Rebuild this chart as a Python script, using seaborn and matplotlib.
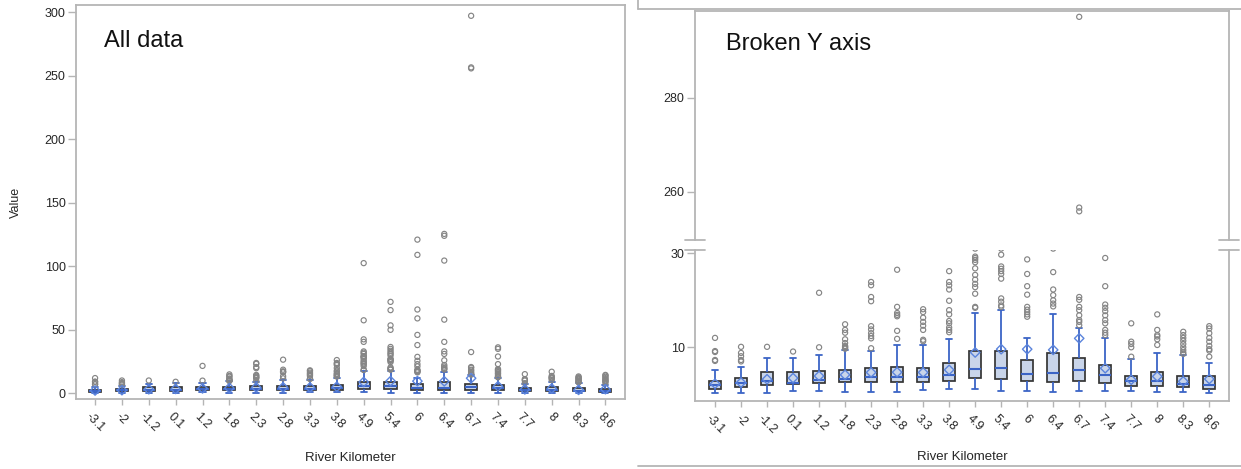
import numpy as np
import pandas as pd
import matplotlib
matplotlib.use("Agg")
import matplotlib.pyplot as plt
from matplotlib.lines import Line2D
import seaborn as sns

# ---------------- data ----------------
categories = ["-3.1", "-2", "-1.2", "0.1", "1.2", "1.8", "2.3", "2.8", "3.3", "3.8",
              "4.9", "5.4", "6", "6.4", "6.7", "7.4", "7.7", "8", "8.3", "8.6"]
whisker_low = [0.3, 0.3, 0.3, 0.6, 0.8, 0.4, 0.4, 0.4, 1.0, 1.1,
               1.1, 0.6, 0.6, 0.4, 0.6, 0.6, 0.6, 0.4, 0.4, 0.3]
q1 = [1.1, 1.6, 2.0, 2.2, 2.4, 2.55, 2.55, 2.55, 2.55, 2.9,
      3.45, 3.25, 2.75, 2.6, 2.9, 2.4, 1.7, 1.85, 1.5, 1.15]
median = [1.9, 2.4, 2.75, 2.5, 3.1, 3.25, 3.65, 3.6, 3.6, 4.15,
          5.4, 5.55, 4.35, 4.5, 5.2, 4.15, 2.75, 2.75, 2.2, 2.05]
q3 = [2.9, 3.4, 4.65, 4.85, 5.05, 5.2, 5.55, 5.75, 5.7, 6.75,
      9.2, 9.3, 7.3, 8.85, 7.7, 6.25, 3.95, 4.65, 3.95, 3.8]
whisker_high = [5.2, 5.9, 7.7, 7.8, 8.4, 9.4, 9.3, 10.5, 10.5, 11.7,
                17.3, 17.9, 11.9, 17.0, 14.2, 11.9, 7.45, 8.7, 8.4, 6.75]
means = [2.25, 2.5, 3.2, 3.45, 3.9, 4.15, 4.65, 4.7, 4.65, 5.2,
         8.9, 9.6, 9.6, 9.45, 11.9, 5.55, 3.1, 3.8, 2.75, 3.25]
outliers = [
    [12.0, 9.2, 9.0, 7.3, 7.1],
    [10.1, 8.8, 8.1, 7.3, 7.0],
    [10.1],
    [9.1],
    [21.6, 10.0],
    [14.9, 13.7, 13.1, 11.7, 10.9, 10.3, 10.1, 9.9, 9.7],
    [23.9, 23.2, 20.7, 19.8, 14.5, 13.8, 13.0, 12.4, 11.9, 9.8],
    [26.5, 18.6, 17.3, 16.9, 16.6, 13.5, 11.8],
    [18.1, 17.5, 16.3, 15.4, 14.6, 13.7, 11.6, 11.3],
    [26.2, 23.9, 23.2, 22.3, 19.9, 17.9, 17.0, 15.6, 15.1, 14.2, 13.7, 13.2],
    [102.5, 57.5, 42.5, 40.5, 33.0, 32.0, 31.0, 29.3, 29.0, 28.6, 28.1, 26.8,
     25.4, 24.4, 23.5, 22.8, 21.4, 18.6, 18.4],
    [72.0, 65.5, 53.5, 50.0, 36.5, 35.0, 33.5, 32.0, 31.0, 29.7, 27.2, 26.7,
     26.2, 25.6, 24.6, 20.4, 19.7, 18.9, 18.6],
    [121.0, 109.0, 66.0, 59.0, 46.0, 38.0, 28.7, 25.6, 23.0, 21.2, 18.6, 18.0,
     17.5, 17.0, 16.5],
    [125.5, 124.0, 104.5, 58.0, 40.5, 33.0, 31.0, 26.0, 22.3, 21.1, 20.0, 19.3, 18.7],
    [297.2, 256.6, 255.8, 32.5, 20.7, 20.1, 18.6, 17.9, 16.8, 15.8, 15.4, 14.7],
    [36.2, 35.0, 29.0, 23.0, 19.1, 18.4, 17.7, 16.8, 15.8, 15.1, 13.7, 13.1, 12.6],
    [15.1, 11.2, 10.7, 10.0, 8.0],
    [17.0, 13.7, 12.6, 12.3, 11.7, 10.5],
    [13.3, 12.6, 12.0, 11.4, 10.7, 10.0, 9.4, 8.9, 8.6],
    [14.5, 14.0, 13.0, 12.0, 11.2, 10.3, 9.6, 9.3, 8.0],
]
left_yticks = [0, 50, 100, 150, 200, 250, 300]
upper_yticks = [260, 280]
lower_yticks = [10, 30]

# ---------------- style ----------------
sns.set_theme(style="ticks")
plt.rcParams["font.family"] = ["Liberation Sans", "DejaVu Sans"]

BOX_FILL = "#c9d5ea"
BOX_EDGE = "#353535"
BLUE = "#3b64c6"
MEAN_BLUE = "#5b84dc"
OUT_GRAY = "#858585"
SPINE = "#b5b5b5"
TEXT = "#262626"

# five-number summaries per category -> seaborn box with whiskers at min/max
box_df = pd.DataFrame({
    "km": np.repeat(categories, 5),
    "value": np.column_stack([whisker_low, q1, median, q3, whisker_high]).ravel(),
})
mean_df = pd.DataFrame({"km": categories, "value": means})
out_df = pd.DataFrame({
    "km": [c for c, vals in zip(categories, outliers) for _ in vals],
    "value": [v for vals in outliers for v in vals],
})


def draw(ax):
    sns.boxplot(data=box_df, x="km", y="value", order=categories, whis=(0, 100),
                width=0.45, fliersize=0, linewidth=1.2, ax=ax,
                boxprops=dict(facecolor=BOX_FILL, edgecolor=BOX_EDGE, linewidth=1.25),
                whiskerprops=dict(color=BLUE, linewidth=1.3),
                capprops=dict(color=BLUE, linewidth=1.3),
                medianprops=dict(color=BLUE, linewidth=1.5))
    sns.stripplot(data=out_df, x="km", y="value", order=categories, jitter=False,
                  marker="o", size=3.7, color=OUT_GRAY, facecolor="none",
                  edgecolor=OUT_GRAY, linewidth=0.85, zorder=3, ax=ax)
    sns.stripplot(data=mean_df, x="km", y="value", order=categories, jitter=False,
                  marker="D", size=4.8, color=MEAN_BLUE, facecolor="none",
                  edgecolor=MEAN_BLUE, linewidth=1.0, zorder=4, ax=ax)


def style_axis(ax, xlim):
    for s in ax.spines.values():
        s.set_color(SPINE)
        s.set_linewidth(1.3)
    ax.set_xlim(*xlim)
    ax.tick_params(axis="y", length=5.5, width=1.0, color=SPINE, labelsize=9,
                   labelcolor=TEXT, pad=2)
    ax.tick_params(axis="x", length=4.5, width=1.0, color=SPINE, labelsize=9,
                   labelcolor=TEXT, pad=4)
    ax.set_ylabel("")
    ax.set_xlabel("")


fig = plt.figure(figsize=(12.41, 4.69), dpi=100)
W, H = 1241.0, 469.0


def add_axes(x0, y0, x1, y1):
    return fig.add_axes([x0 / W, 1 - y1 / H, (x1 - x0) / W, (y1 - y0) / H])


# ---------------- left panel ----------------
axL = add_axes(76, 5, 624.5, 399.3)
draw(axL)
style_axis(axL, (-0.71, 19.71))
axL.set_ylim(-4.7, 305.7)
axL.set_yticks(left_yticks)
axL.set_xticks(range(len(categories)))
axL.set_xticklabels(categories, rotation=-45, ha="center", va="top")
axL.set_ylabel("Value", fontsize=9, color=TEXT)
axL.yaxis.set_label_coords(-0.109, 0.5)
axL.yaxis.label.set_va("center")
axL.set_xlabel("River Kilometer", fontsize=9.5, color=TEXT)
axL.xaxis.set_label_coords(0.5, -0.149)
axL.xaxis.label.set_va("center")
axL.text(0.051, 0.908, "All data", transform=axL.transAxes, fontsize=17,
         color="#111111", va="center", ha="left")

# ---------------- right panel (broken axis) ----------------
axU = add_axes(695, 11.2, 1229.3, 240)
axB = add_axes(695, 250, 1229.3, 400.7)
for ax in (axU, axB):
    draw(ax)
    style_axis(ax, (-0.77, 19.77))

axU.set_ylim(249.7, 298.4)
axU.set_yticks(upper_yticks)
axU.spines["bottom"].set_visible(False)
axU.set_xticks(range(len(categories)))
axU.tick_params(axis="x", bottom=False, labelbottom=False)
axU.text(0.058, 0.857, "Broken Y axis", transform=axU.transAxes, fontsize=17,
         color="#111111", va="center", ha="left")

axB.set_ylim(-1.36, 30.7)
axB.set_yticks(lower_yticks)
axB.spines["top"].set_visible(False)
axB.set_xticks(range(len(categories)))
axB.set_xticklabels(categories, rotation=-45, ha="center", va="top")
axB.set_xlabel("River Kilometer", fontsize=9.5, color=TEXT)
axB.xaxis.set_label_coords(0.5, -0.375)
axB.xaxis.label.set_va("center")

# break marks on the axis lines
dx = 10 / (1229.3 - 695)
for ax, yy in ((axU, 0.0), (axB, 1.0)):
    for xc in (0.0, 1.0):
        ax.plot([xc - dx, xc + dx], [yy, yy], transform=ax.transAxes,
                color=SPINE, lw=1.3, clip_on=False, zorder=5)

# outer frame lines of the right-hand image
fig.add_artist(Line2D([638 / W, 1.0], [1 - 9 / H, 1 - 9 / H],
                      transform=fig.transFigure, color=SPINE, lw=1.3))
fig.add_artist(Line2D([638 / W, 638 / W], [1 - 9 / H, 1.0],
                      transform=fig.transFigure, color=SPINE, lw=1.3))
fig.add_artist(Line2D([638 / W, 1.0], [1 - 466 / H, 1 - 466 / H],
                      transform=fig.transFigure, color=SPINE, lw=1.3))

fig.savefig("out.png", dpi=100, facecolor="white")
